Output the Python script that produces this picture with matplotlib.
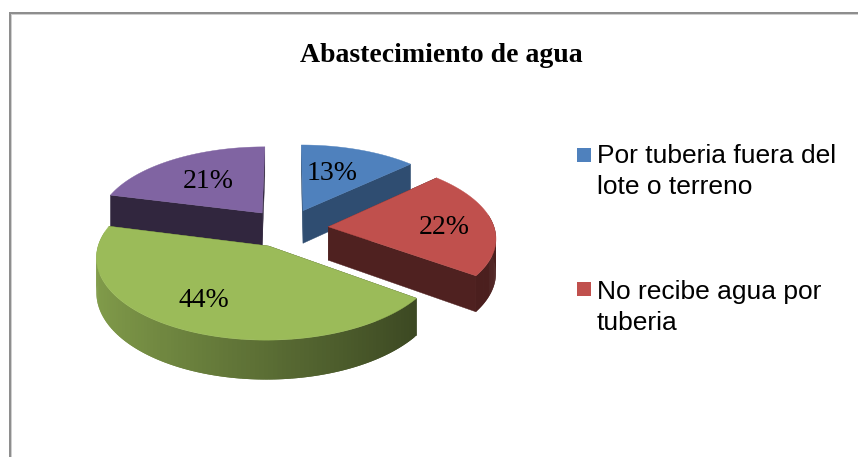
import numpy as np
import matplotlib
matplotlib.use("Agg")
import matplotlib.pyplot as plt
from matplotlib.patches import Polygon, Rectangle

title = "Abastecimiento de agua"
values = [13, 22, 44, 21]
colors = ["#4f81bd", "#c0504d", "#9bbb59", "#8064a2"]
legend_names = [["Por tuberia fuera del", "lote o terreno"],
                ["No recibe agua por", "tuberia"]]

# look of the tilted pie, in pixels
cx, cy = 287, 228
rx, ry = 166, 77.7
persp = 0.1226
depth = 33.5
explode = 0.25
label_r = [0.5, 0.68, 0.8, 0.56]
label_shift = [(0, -5), (4, 4), (1, -11), (-2, 0)]
cut_shade = [0.6, 0.41, 0.4, 0.38]


def project(x, y, z=0.0):
    s = 1 / (1 + persp * y)
    return cx + rx * x * s, cy - ry * y * s + depth * z * s


def shaded(color, f):
    return tuple(c * f for c in matplotlib.colors.to_rgb(color))


def arc_shade(x):
    # walls get darker from left to right
    return np.interp(x, [-1.0, 0.8], [0.84, 0.39])


fig = plt.figure(figsize=(8.58, 4.57), dpi=100)
ax = fig.add_axes([0, 0, 1, 1])
ax.set_xlim(0, 858)
ax.set_ylim(457, 0)
ax.axis("off")

# chart frame
ax.add_patch(Rectangle((9, 14), 849, 1.2, fc="#cfcfcf", ec="none"))
ax.add_patch(Rectangle((11, 14), 1.2, 443, fc="#cfcfcf", ec="none"))
ax.add_patch(Rectangle((9, 12), 849, 2, fc="#8e8e8e", ec="none"))
ax.add_patch(Rectangle((9, 12), 2, 445, fc="#8e8e8e", ec="none"))

ax.text(441, 55, title, family="Liberation Serif", weight="bold", fontsize=20,
        ha="center", va="center", color="black")

fracs = np.array(values) / sum(values)
ends = np.cumsum(fracs) * 2 * np.pi
starts = ends - fracs * 2 * np.pi
mids = (starts + ends) / 2
offsets = [(explode * np.sin(m), explode * np.cos(m)) for m in mids]

# back slices first, green sits in front of everything
for i in [0, 3, 1, 2]:
    ox, oy = offsets[i]
    angles = np.linspace(starts[i], ends[i], 120)
    ux, uy = np.sin(angles), np.cos(angles)
    px, py = ox + ux, oy + uy

    # flat walls along the two cuts
    for ex, ey in [(px[0], py[0]), (px[-1], py[-1])]:
        wall = [project(ox, oy), project(ex, ey), project(ex, ey, 1), project(ox, oy, 1)]
        ax.add_patch(Polygon(wall, fc=shaded(colors[i], cut_shade[i]),
                             ec=shaded(colors[i], cut_shade[i]), lw=0.3))

    # outer wall as thin strips, each one runs under the next to hide the seams
    for j in range(len(angles) - 1):
        if uy[j] > 0.15 and uy[j + 1] > 0.15:
            continue
        k = min(j + 2, len(angles) - 1)
        strip = [project(px[j], py[j]), project(px[k], py[k]),
                 project(px[k], py[k], 1), project(px[j], py[j], 1)]
        ax.add_patch(Polygon(strip, fc=shaded(colors[i], arc_shade(ux[j])), ec="none", lw=0))

    top = [project(ox, oy)] + [project(a, b) for a, b in zip(px, py)]
    ax.add_patch(Polygon(top, fc=colors[i], ec=colors[i], lw=0.3))

for i, v in enumerate(values):
    ox, oy = offsets[i]
    lx, ly = project(ox + label_r[i] * np.sin(mids[i]), oy + label_r[i] * np.cos(mids[i]))
    ax.text(lx + label_shift[i][0], ly + label_shift[i][1], f"{v}%",
            family="Liberation Serif", fontsize=20, ha="center", va="center", color="black")

# legend, only the first two entries fit
box_y = [148, 282]
base_y = [163, 299]
for i, lines in enumerate(legend_names):
    ax.add_patch(Rectangle((577, box_y[i]), 14, 14, fc=colors[i], ec="none"))
    for k, line in enumerate(lines):
        ax.text(597, base_y[i] + k * 30.5, line, family="Liberation Sans", fontsize=19,
                ha="left", va="baseline", color="black")

fig.savefig("out.png", dpi=100)
